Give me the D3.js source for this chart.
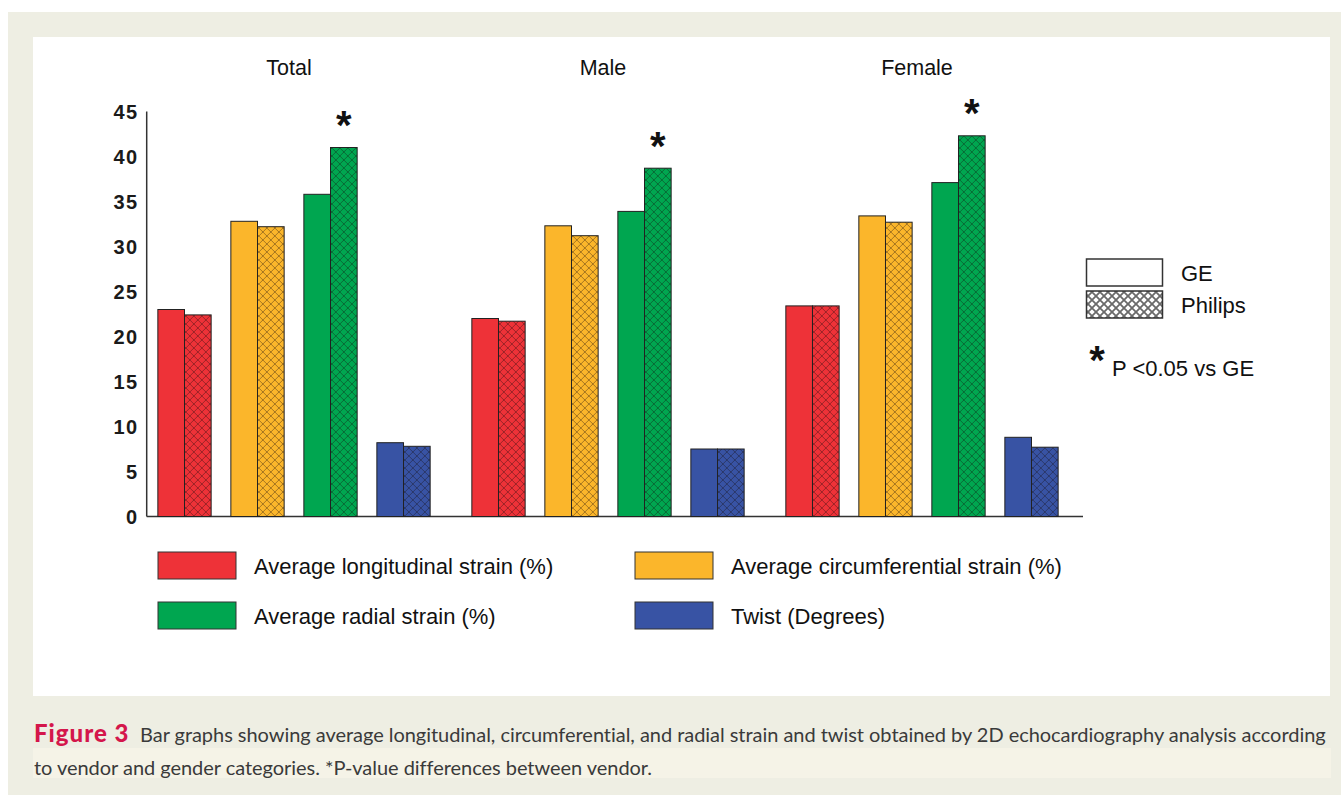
<!DOCTYPE html>
<html>
<head>
<meta charset="utf-8">
<script src="https://cdn.jsdelivr.net/npm/d3@7"></script>
<style>
  html, body { margin: 0; padding: 0; background: #ffffff; }
  svg { display: block; }
</style>
</head>
<body>
<svg id="chart" width="1341" height="795"></svg>
<script>
// ---- data ----
const panels = ["Total", "Male", "Female"];
const metrics = [
  "Average longitudinal strain (%)",
  "Average circumferential strain (%)",
  "Average radial strain (%)",
  "Twist (Degrees)"
];
const vendors = ["GE", "Philips"];
const geValues      = [[23.0, 32.8, 35.8, 8.2], [22.0, 32.3, 33.9, 7.5], [23.4, 33.4, 37.1, 8.8]];
const philipsValues = [[22.4, 32.2, 41.0, 7.8], [21.7, 31.2, 38.7, 7.5], [23.4, 32.7, 42.3, 7.7]];
const significant   = [[false, false, true, false], [false, false, true, false], [false, false, true, false]];
const yTicks = [0, 5, 10, 15, 20, 25, 30, 35, 40, 45];
const metricColors = ["#ee3238", "#fbb62b", "#00a650", "#3853a4"];
const captionLabel = "Figure 3";
const captionLine1 = "Bar graphs showing average longitudinal, circumferential, and radial strain and twist obtained by 2D echocardiography analysis according";
const captionLine2 = "to vendor and gender categories. *P-value differences between vendor.";

const svg = d3.select("#chart");
const font = "'Liberation Sans', Arial, sans-serif";

// ---- page backgrounds ----
svg.append("rect").attr("x", 8).attr("y", 12).attr("width", 1333).attr("height", 783).attr("fill", "#eeeee3");
svg.append("rect").attr("x", 33).attr("y", 37).attr("width", 1297).attr("height", 659).attr("fill", "#ffffff");
svg.append("rect").attr("x", 33).attr("y", 748).attr("width", 1298).attr("height", 30).attr("fill", "#f5f3e7");

// ---- hatch patterns ----
const defs = svg.append("defs");
function hatch(id, fill, stroke, width) {
  const p = defs.append("pattern").attr("id", id)
    .attr("patternUnits", "userSpaceOnUse").attr("width", 8).attr("height", 8);
  p.append("rect").attr("width", 8).attr("height", 8).attr("fill", fill);
  p.append("path").attr("d", "M0,0L8,8M8,0L0,8")
    .attr("stroke", stroke).attr("stroke-width", width).attr("fill", "none");
}
metricColors.forEach((c, i) => hatch("hatch" + i, c, "rgba(20,10,10,0.42)", 0.9));
hatch("hatchKey", "#ffffff", "#6a6a6a", 1.8);

// ---- scales ----
const y = d3.scaleLinear().domain([0, 45]).range([516.5, 111.5]);
const xPanel = d3.scaleBand().domain(panels).range([148, 1068]).paddingInner(0.07).paddingOuter(0);
const xMetric = d3.scaleBand().domain(metrics).range([0, xPanel.bandwidth()]).paddingInner(0.27).paddingOuter(0.135);
const xVendor = d3.scaleBand().domain(vendors).range([0, xMetric.bandwidth()]);

// ---- axes ----
const axisLeft = 146.7, axisRight = 1083;
svg.append("line").attr("x1", axisLeft).attr("x2", axisLeft).attr("y1", y(45)).attr("y2", y(0))
  .attr("stroke", "#333").attr("stroke-width", 1.5);
svg.append("line").attr("x1", axisLeft).attr("x2", axisRight).attr("y1", y(0)).attr("y2", y(0))
  .attr("stroke", "#333").attr("stroke-width", 1.5);

const yAxis = d3.axisLeft(y).tickValues(yTicks).tickSize(0).tickPadding(0);
const yg = svg.append("g").attr("transform", `translate(${axisLeft - 8},0)`).call(yAxis);
yg.select(".domain").remove();
yg.selectAll("text").attr("font-family", font).attr("font-size", 20).attr("font-weight", "bold")
  .attr("fill", "#1a1a1a").attr("letter-spacing", 1.5).attr("dy", "0.36em");

// ---- bars ----
panels.forEach((panel, pi) => {
  const g = svg.append("g").attr("transform", `translate(${xPanel(panel)},0)`);
  g.append("text").attr("x", xPanel.bandwidth() / 2 - 5).attr("y", 75)
    .attr("text-anchor", "middle").attr("font-family", font).attr("font-size", 21.5).attr("fill", "#111")
    .text(panel);
  metrics.forEach((m, mi) => {
    const rows = [
      { vendor: "GE", value: geValues[pi][mi], fill: metricColors[mi] },
      { vendor: "Philips", value: philipsValues[pi][mi], fill: `url(#hatch${mi})` }
    ];
    const mg = g.append("g").attr("transform", `translate(${xMetric(m)},0)`);
    mg.selectAll("rect").data(rows).join("rect")
      .attr("x", d => xVendor(d.vendor))
      .attr("y", d => y(d.value))
      .attr("width", xVendor.bandwidth())
      .attr("height", d => y(0) - y(d.value))
      .attr("fill", d => d.fill)
      .attr("stroke", "#222").attr("stroke-width", 1);
    if (significant[pi][mi]) {
      const v = philipsValues[pi][mi];
      mg.append("text")
        .attr("x", xVendor("Philips") + xVendor.bandwidth() / 2)
        .attr("y", y(v) - 31 + 22.6)
        .attr("text-anchor", "middle").attr("font-family", font).attr("font-weight", "bold")
        .attr("font-size", 40).attr("fill", "#111").text("*");
    }
  });
});

// ---- vendor key ----
const keyX = 1086.5, keyW = 76, keyH = 27;
const keyRows = [{ label: "GE", fill: "#ffffff", y: 259 }, { label: "Philips", fill: "url(#hatchKey)", y: 291 }];
keyRows.forEach(k => {
  svg.append("rect").attr("x", keyX).attr("y", k.y).attr("width", keyW).attr("height", keyH)
    .attr("fill", k.fill).attr("stroke", "#333").attr("stroke-width", 1.5);
  svg.append("text").attr("x", 1181).attr("y", k.y + keyH / 2 + 8)
    .attr("font-family", font).attr("font-size", 22).attr("fill", "#111").text(k.label);
});
svg.append("text").attr("x", 1097).attr("y", 351.5 + 22.6).attr("text-anchor", "middle")
  .attr("font-family", font).attr("font-weight", "bold").attr("font-size", 40).attr("fill", "#111").text("*");
svg.append("text").attr("x", 1112).attr("y", 376)
  .attr("font-family", font).attr("font-size", 22).attr("fill", "#111").text("P <0.05 vs GE");

// ---- metric legend ----
const legendCols = [158, 635], legendRows = [552, 602];
metrics.forEach((m, i) => {
  const lx = legendCols[i % 2], ly = legendRows[Math.floor(i / 2)];
  svg.append("rect").attr("x", lx).attr("y", ly).attr("width", 78).attr("height", 27)
    .attr("fill", metricColors[i]).attr("stroke", "#333").attr("stroke-width", 1);
  svg.append("text").attr("x", lx + 96).attr("y", ly + 13.5 + 8)
    .attr("font-family", font).attr("font-size", 22).attr("fill", "#111").text(m);
});

// ---- caption ----
// The body text is tightened with letter-spacing so that line 1 fills the column.
const capFont = "Lato, 'Open Sans', sans-serif";
svg.append("text").attr("x", 34).attr("y", 742).attr("font-family", capFont).attr("font-weight", 900)
  .attr("font-size", 24).attr("letter-spacing", 1).attr("fill", "#d4164b").text(captionLabel);
const c1 = svg.append("text").attr("x", 140).attr("y", 742).attr("font-family", capFont)
  .attr("font-size", 20).attr("fill", "#3a3a3a").text(captionLine1);
const c2 = svg.append("text").attr("x", 34).attr("y", 775).attr("font-family", capFont)
  .attr("font-size", 20).attr("fill", "#3a3a3a").text(captionLine2);
const natural = c1.node().getComputedTextLength();
const spacing = (1186 - natural) / captionLine1.length;
c1.attr("letter-spacing", spacing);
c2.attr("letter-spacing", spacing);
</script>
</body>
</html>
